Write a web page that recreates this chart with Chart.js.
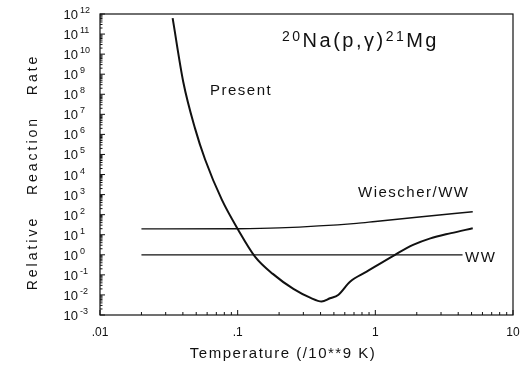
<!DOCTYPE html>
<html>
<head>
<meta charset="utf-8">
<script src="https://cdn.jsdelivr.net/npm/chart.js@4.4.0/dist/chart.umd.min.js"></script>
<style>
    html, body { margin: 0; padding: 0; background: #fff; }
    #wrap { width: 530px; height: 365px; }
</style>
</head>
<body>
<div id="wrap"><canvas id="rateChart"></canvas></div>
<script>
// Data (temperature in 10^9 K, relative rate)
const presentT = [0.0337, 0.0403, 0.049, 0.058, 0.0767, 0.101, 0.134, 0.18, 0.254, 0.339, 0.407, 0.468, 0.537, 0.655, 0.865, 1.39, 1.88, 2.51, 3.55, 5.1];
const presentRate = [6.2e11, 4.0e8, 2.0e6, 5.6e4, 560, 17.4, 0.79, 0.112, 0.02, 0.0071, 0.0047, 0.0068, 0.01, 0.046, 0.145, 1.0, 3.1, 6.6, 12, 21];
const wiescherT = [0.02, 0.1, 0.2, 0.73, 1.0, 2.0, 5.1];
const wiescherRate = [19.5, 20, 22, 37, 46, 74, 140];
const wwT = [0.02, 4.3];
const wwRate = [1, 1];

// Tick labels
const tempTicks = [0.01, 0.1, 1, 10];
const tempTickLabels = ['.01', '.1', '1', '10'];
const rateExps = [-3, -2, -1, 0, 1, 2, 3, 4, 5, 6, 7, 8, 9, 10, 11, 12];

const FONT = "'Liberation Sans', Arial, Helvetica, sans-serif";

function toPoints(xs, ys) {
    return xs.map((x, i) => ({ x: x, y: ys[i] }));
}

// Draws the frame, inward ticks, y labels, axis titles and in-plot labels
const decorPlugin = {
    id: 'decor',
    afterDraw(chart) {
        const ctx = chart.ctx;
        const area = chart.chartArea;
        const xs = chart.scales.x;
        const ys = chart.scales.y;
        ctx.save();
        ctx.strokeStyle = '#111';
        ctx.lineWidth = 1.2;
        ctx.strokeRect(area.left, area.top, area.right - area.left, area.bottom - area.top);

        // y ticks (major + minor), pointing inward
        ctx.lineWidth = 1;
        ctx.beginPath();
        for (let e = -3; e <= 12; e++) {
            const py = ys.getPixelForValue(Math.pow(10, e));
            ctx.moveTo(area.left, py);
            ctx.lineTo(area.left + 5, py);
            if (e < 12) {
                for (let m = 2; m <= 9; m++) {
                    const my = ys.getPixelForValue(m * Math.pow(10, e));
                    ctx.moveTo(area.left, my);
                    ctx.lineTo(area.left + 2.5, my);
                }
            }
        }
        // x ticks
        for (let e = -2; e <= 1; e++) {
            const px = xs.getPixelForValue(Math.pow(10, e));
            ctx.moveTo(px, area.bottom);
            ctx.lineTo(px, area.bottom - 5);
            if (e < 1) {
                for (let m = 2; m <= 9; m++) {
                    const mx = xs.getPixelForValue(m * Math.pow(10, e));
                    ctx.moveTo(mx, area.bottom);
                    ctx.lineTo(mx, area.bottom - 3);
                }
            }
        }
        ctx.stroke();

        // y tick labels 10^n
        ctx.fillStyle = '#111';
        ctx.textBaseline = 'alphabetic';
        rateExps.forEach(e => {
            const py = ys.getPixelForValue(Math.pow(10, e));
            ctx.font = '13px ' + FONT;
            ctx.textAlign = 'right';
            ctx.fillText('10', 78, py + 5);
            ctx.font = '9px ' + FONT;
            ctx.textAlign = 'left';
            ctx.fillText(String(e), 80, py - 1);
        });

        // y axis title, letter spaced
        ctx.save();
        ctx.translate(37, 172);
        ctx.rotate(-Math.PI / 2);
        ctx.font = '14px ' + FONT;
        ctx.letterSpacing = '3px';
        ctx.textAlign = 'center';
        ctx.fillText('Relative   Reaction   Rate', 0, 0);
        ctx.restore();

        // x axis title
        ctx.save();
        ctx.font = '15px ' + FONT;
        ctx.letterSpacing = '1.5px';
        ctx.textAlign = 'center';
        ctx.fillText('Temperature (/10**9 K)', 283, 358);
        ctx.restore();

        // reaction label with superscripts
        ctx.save();
        ctx.letterSpacing = '2.5px';
        ctx.textAlign = 'left';
        let x = 282;
        const base = 47;
        const parts = [['20', 14, -6], ['Na(p,\u03b3)', 20, 0], ['21', 14, -6], ['Mg', 20, 0]];
        parts.forEach(p => {
            ctx.font = p[1] + 'px ' + FONT;
            ctx.fillText(p[0], x, base + p[2]);
            x += ctx.measureText(p[0]).width;
        });
        ctx.restore();

        // curve labels
        ctx.save();
        ctx.font = '15px ' + FONT;
        ctx.letterSpacing = '1.5px';
        ctx.textAlign = 'left';
        ctx.fillText('Present', 210, 95);
        ctx.fillText('Wiescher/WW', 358, 197);
        ctx.fillText('WW', 465, 262);
        ctx.restore();
        ctx.restore();
    }
};

document.addEventListener('DOMContentLoaded', function () {
    const ctx = document.getElementById('rateChart').getContext('2d');

    new Chart(ctx, {
        type: 'line',
        data: {
            datasets: [{
                label: 'Present',
                data: toPoints(presentT, presentRate),
                borderColor: '#111',
                borderWidth: 2,
                pointRadius: 0,
                cubicInterpolationMode: 'monotone',
                fill: false
            }, {
                label: 'Wiescher/WW',
                data: toPoints(wiescherT, wiescherRate),
                borderColor: '#111',
                borderWidth: 1.4,
                pointRadius: 0,
                cubicInterpolationMode: 'monotone',
                fill: false
            }, {
                label: 'WW',
                data: toPoints(wwT, wwRate),
                borderColor: '#111',
                borderWidth: 1.2,
                pointRadius: 0,
                fill: false
            }]
        },
        options: {
            responsive: true,
            maintainAspectRatio: false,
            animation: false,
            events: [],
            layout: {
                padding: { left: 0, right: 17, top: 14, bottom: 0 }
            },
            scales: {
                x: {
                    type: 'logarithmic',
                    min: 0.01,
                    max: 10,
                    afterBuildTicks: (scale) => {
                        scale.ticks = tempTicks.map(v => ({ value: v }));
                    },
                    afterFit: (scale) => { scale.height = 50; },
                    grid: { display: false, drawTicks: false },
                    border: { display: false },
                    ticks: {
                        autoSkip: false,
                        maxRotation: 0,
                        padding: 10,
                        color: '#111',
                        font: { family: FONT, size: 12 },
                        callback: (value, index) => tempTickLabels[index]
                    }
                },
                y: {
                    type: 'logarithmic',
                    min: 1e-3,
                    max: 1e12,
                    afterFit: (scale) => { scale.width = 100; },
                    grid: { display: false },
                    border: { display: false },
                    ticks: { display: false }
                }
            },
            plugins: {
                legend: { display: false },
                tooltip: { enabled: false },
                title: { display: false }
            }
        },
        plugins: [decorPlugin]
    });
});
</script>
</body>
</html>
